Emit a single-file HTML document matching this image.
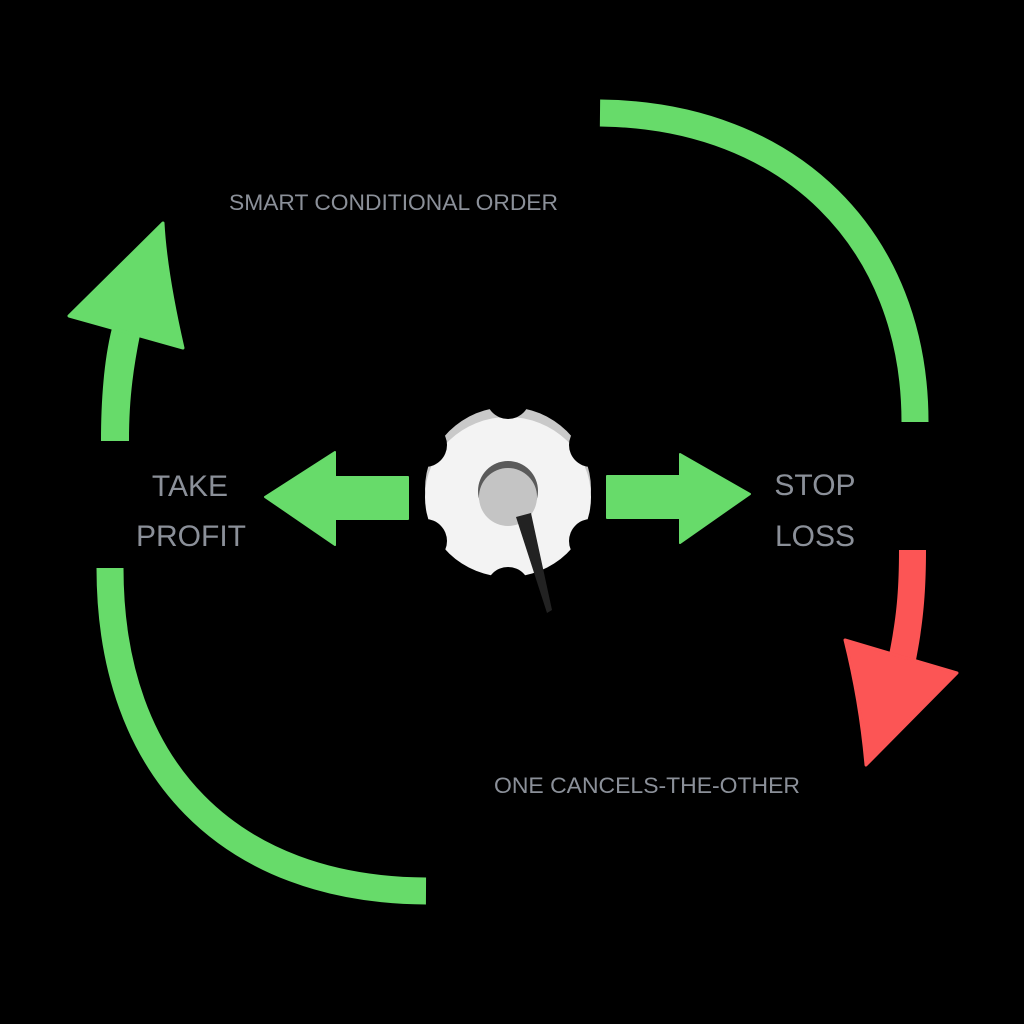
<!DOCTYPE html>
<html><head><style>
html,body{margin:0;padding:0;background:#000;}
svg{display:block}
text{font-family:"Liberation Sans","DejaVu Sans",sans-serif;fill:#8b9099;}
</style></head><body>
<svg width="1024" height="1024" viewBox="0 0 1024 1024">
<rect width="1024" height="1024" fill="#000"/>
<!-- arcs -->
<path d="M600,113 C790,115 915,240 915,422" fill="none" stroke="#67db6a" stroke-width="27"/>
<path d="M110,568 C110,770 230,890 426,891" fill="none" stroke="#67db6a" stroke-width="27"/>
<!-- up arrow -->
<path d="M101,441 C101,400 104,360 112,328 L140,335 C133,370 129,400 129,441 Z" fill="#67db6a"/>
<path d="M163,223 L69,316 L183,348 C172,300 165,260 163,223 Z" fill="#67db6a" stroke="#67db6a" stroke-width="3" stroke-linejoin="round"/>
<!-- red arrow -->
<path d="M899,550 L926,550 C926,600 922,630 915,665 L888,660 C895,625 899,600 899,550 Z" fill="#fc5555"/>
<path d="M845,640 L957,673 L866,765 C862,720 855,680 845,640 Z" fill="#fc5555" stroke="#fc5555" stroke-width="3" stroke-linejoin="round"/>
<!-- left arrow -->
<path d="M408,477 L335,477 L335,452 L265,497 L335,545 L335,519 L408,519 Z" fill="#67db6a" stroke="#67db6a" stroke-width="2" stroke-linejoin="round"/>
<!-- right arrow -->
<path d="M607,476 L680,476 L680,454 L750,494 L680,543 L680,518 L607,518 Z" fill="#67db6a" stroke="#67db6a" stroke-width="2" stroke-linejoin="round"/>
<!-- gear -->
<g transform="translate(508,493)">
  <ellipse cx="0" cy="-4" rx="83" ry="82" fill="#c9c9c9"/>
  <ellipse cx="0" cy="4" rx="83" ry="80" fill="#f3f3f3"/>
  <g fill="#000">
    <circle cx="0" cy="-96" r="22"/>
    <circle cx="83" cy="-48" r="22"/>
    <circle cx="83" cy="48" r="22"/>
    <circle cx="0" cy="96" r="22"/>
    <circle cx="-83" cy="48" r="22"/>
    <circle cx="-83" cy="-48" r="22"/>
  </g>
  <circle cx="0" cy="-2" r="30" fill="#5a5a5a"/>
  <circle cx="0" cy="4" r="29" fill="#c4c4c4"/>
  <path d="M8,24 L23,20 L44,117 L39,120 Z" fill="#222"/>
</g>
<!-- text -->
<text x="229" y="210" font-size="22" textLength="329" lengthAdjust="spacingAndGlyphs">SMART CONDITIONAL ORDER</text>
<text x="190" y="496" font-size="30" text-anchor="middle">TAKE</text>
<text x="191" y="546" font-size="30" text-anchor="middle">PROFIT</text>
<text x="815" y="495" font-size="30" text-anchor="middle">STOP</text>
<text x="815" y="546" font-size="30" text-anchor="middle">LOSS</text>
<text x="494" y="793" font-size="22" textLength="306" lengthAdjust="spacingAndGlyphs">ONE CANCELS-THE-OTHER</text>
</svg>
</body></html>
